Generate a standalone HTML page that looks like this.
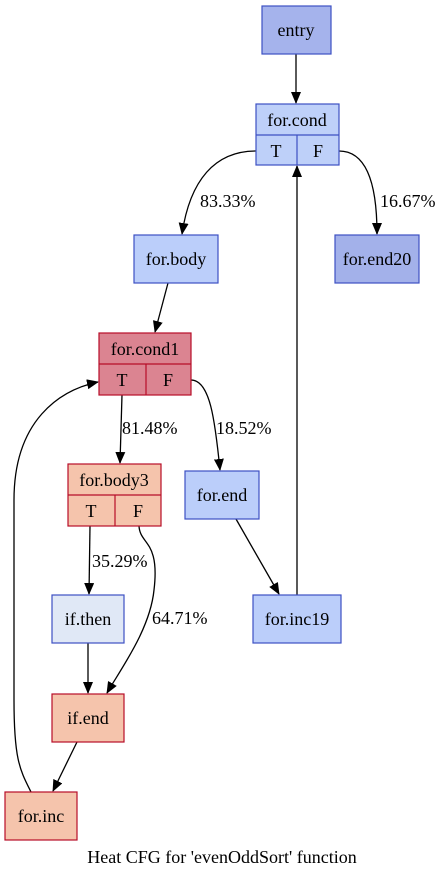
<!DOCTYPE html>
<html><head><meta charset="utf-8"><style>
html,body{margin:0;padding:0;background:#fff}
svg{display:block}
text{font-family:"Liberation Serif",serif;font-size:18px;fill:#000}
</style></head><body>
<svg width="444" height="877" viewBox="0 0 444 877" xmlns="http://www.w3.org/2000/svg">
<defs><marker id="a" markerWidth="12" markerHeight="10" refX="11" refY="5" orient="auto" markerUnits="userSpaceOnUse"><path d="M0,0 L12,5 L0,10 z" fill="#000"/></marker></defs>
<g fill="none" stroke="#000" stroke-width="1.3" marker-end="url(#a)">
<path d="M296,54 L296,103"/>
<path d="M256,151 C215,151 190,180 182,234"/>
<path d="M339,151 C365,151 377,180 377,234"/>
<path d="M297,595 L297,166"/>
<path d="M168,283 L155,332"/>
<path d="M122,395 L120,463"/>
<path d="M191,380 C210,380 215,420 220,470"/>
<path d="M236,519 L279,594"/>
<path d="M90,526 L89,594"/>
<path d="M139,526 C140,545 160,540 154,590 C150,630 120,670 107,693"/>
<path d="M88,643 L88,693"/>
<path d="M77,742 L53,791"/>
<path d="M31,792 C20,770 14,760 14,700 L14,500 C14,420 60,390 98,382"/>
</g>
<g stroke-width="1.2">
<rect x="262" y="6" width="69" height="48" fill="#a5b3ec" stroke="#3d50c3"/>
<rect x="256" y="104" width="83" height="61" fill="#bed0f9" stroke="#3d50c3"/>
<path d="M256,135 H339 M297,135 V165" stroke="#3d50c3"/>
<rect x="134" y="235" width="84" height="48" fill="#bbcefa" stroke="#3d50c3"/>
<rect x="335" y="235" width="84" height="48" fill="#a3b1ea" stroke="#3d50c3"/>
<rect x="99" y="333" width="92" height="62" fill="#db8491" stroke="#b70d28"/>
<path d="M99,364 H191 M146,364 V395" stroke="#b70d28"/>
<rect x="68" y="464" width="93" height="62" fill="#f5c4ac" stroke="#b70d28"/>
<path d="M68,495 H161 M115,495 V526" stroke="#b70d28"/>
<rect x="185" y="471" width="74" height="48" fill="#bbcefa" stroke="#3d50c3"/>
<rect x="52" y="595" width="72" height="48" fill="#e0e8f6" stroke="#3d50c3"/>
<rect x="253" y="595" width="88" height="48" fill="#bbcefa" stroke="#3d50c3"/>
<rect x="52" y="694" width="72" height="48" fill="#f5c4ac" stroke="#b70d28"/>
<rect x="5" y="792" width="72" height="48" fill="#f5c4ac" stroke="#b70d28"/>
</g>
<g text-anchor="middle">
<text x="296" y="36">entry</text>
<text x="297" y="126">for.cond</text>
<text x="276" y="157">T</text><text x="318" y="157">F</text>
<text x="176" y="265">for.body</text>
<text x="377" y="265">for.end20</text>
<text x="145" y="355">for.cond1</text>
<text x="122" y="386">T</text><text x="168" y="386">F</text>
<text x="114" y="486">for.body3</text>
<text x="91" y="517">T</text><text x="138" y="517">F</text>
<text x="222" y="501">for.end</text>
<text x="88" y="625">if.then</text>
<text x="297" y="625">for.inc19</text>
<text x="88" y="724">if.end</text>
<text x="41" y="822">for.inc</text>
<text x="222" y="863">Heat CFG for 'evenOddSort' function</text>
</g>
<text x="200" y="207">83.33%</text>
<text x="380" y="207">16.67%</text>
<text x="122" y="434">81.48%</text>
<text x="216" y="434">18.52%</text>
<text x="92" y="567">35.29%</text>
<text x="152" y="624">64.71%</text>
</svg>
</body></html>
